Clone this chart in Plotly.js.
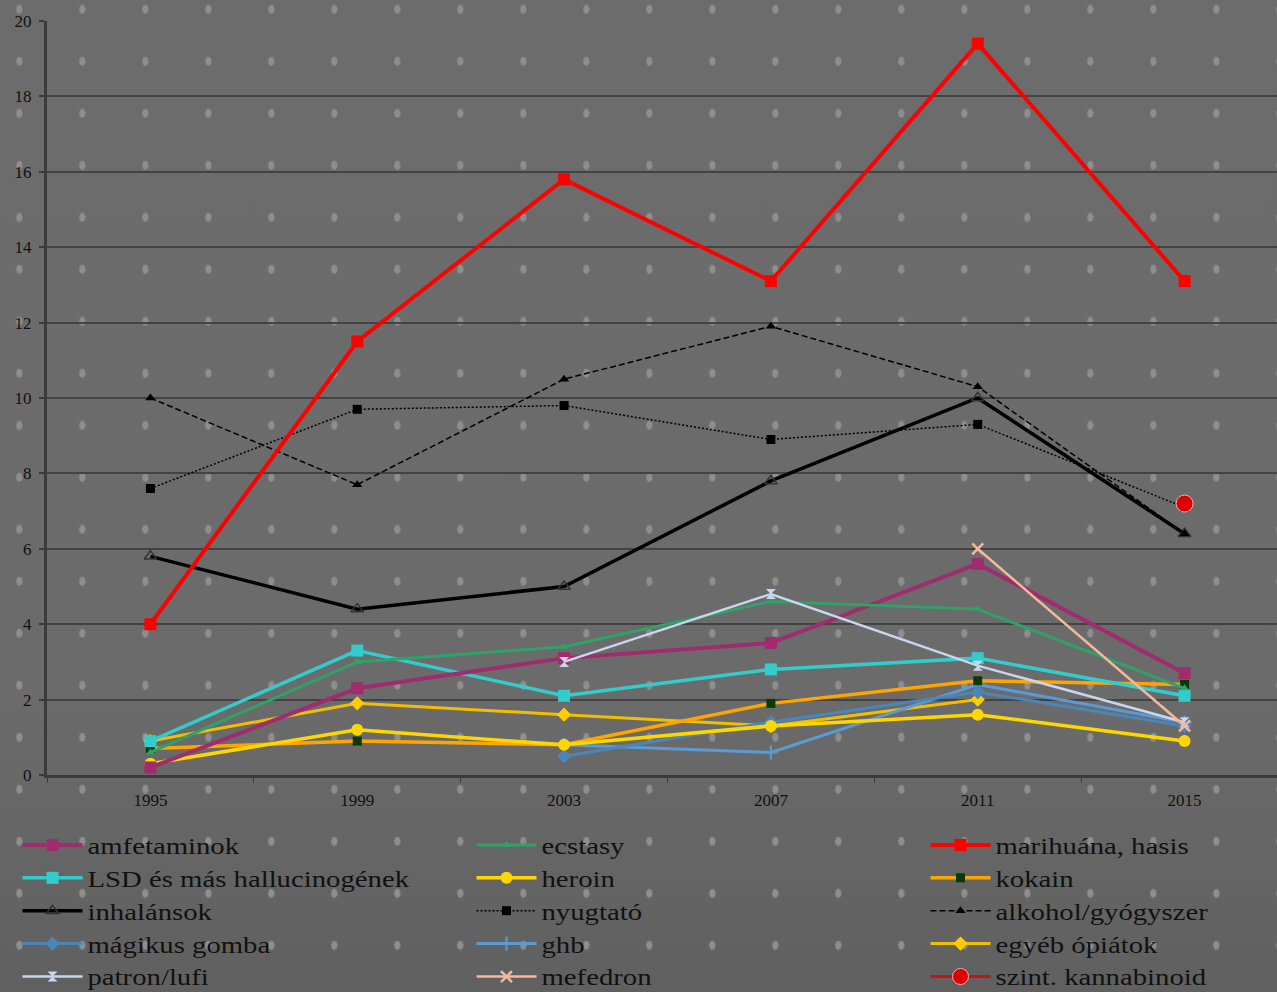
<!DOCTYPE html>
<html>
<head>
<meta charset="utf-8">
<script src="https://cdn.plot.ly/plotly-3.0.1.min.js"></script>
<style>
  html, body { margin: 0; padding: 0; }
  #chart {
    width: 1277px; height: 992px;
    background-color: #696969;
    background-image:
      radial-gradient(ellipse 3.6px 5px at 31.5px 26px, #8e8e8e 0%, #8e8e8e 75%, rgba(142,142,142,0) 100%),
      linear-gradient(to bottom, #6c6c6c 0%, #6b6b6b 70%, #606060 100%);
    background-size: 63px 52px, 100% 100%;
    background-position: -12.2px -16.7px, 0 0;
    background-repeat: repeat, no-repeat;
  }
  /* the reference's legend lettering is horizontally stretched */
  #chart g[class^="legend"] text {
    transform-box: fill-box;
    transform-origin: 0% 50%;
    transform: scaleX(1.25);
  }
  #chart g.scrollbox { clip-path: none !important; }
</style>
</head>
<body>
<div id="chart"></div>
<script>
// ---- data ----
const years = ["1995", "1999", "2003", "2007", "2011", "2015"];
const yTicks = [0, 2, 4, 6, 8, 10, 12, 14, 16, 18, 20];

const amfetaminok   = [0.2, 2.3, 3.1, 3.5, 5.6, 2.7];
const ecstasy       = [0.6, 3.0, 3.4, 4.6, 4.4, 2.3];
const marihuana     = [4.0, 11.5, 15.8, 13.1, 19.4, 13.1];
const lsd           = [0.9, 3.3, 2.1, 2.8, 3.1, 2.1];
const heroin        = [0.3, 1.2, 0.8, 1.3, 1.6, 0.9];
const kokain        = [0.7, 0.9, 0.8, 1.9, 2.5, 2.4];
const inhalansok    = [5.8, 4.4, 5.0, 7.8, 10.0, 6.4];
const nyugtato      = [7.6, 9.7, 9.8, 8.9, 9.3, 7.1];
const alkohol       = [10.0, 7.7, 10.5, 11.9, 10.3, 6.4];
const magikusGomba  = [null, null, 0.5, 1.4, 2.2, 1.3];
const ghb           = [null, null, 0.8, 0.6, 2.4, 1.4];
const egyebOpiatok  = [0.9, 1.9, 1.6, 1.3, 2.0, null];
const patronLufi    = [null, null, 3.0, 4.8, 2.9, 1.4];
const mefedron      = [null, null, null, null, 6.0, 1.3];
const szintKannab   = [null, null, null, null, null, 7.2];

const names = {
  amf: "amfetaminok", ecs: "ecstasy", mar: "marihuána, hasis",
  lsd: "LSD és más hallucinogének", her: "heroin", kok: "kokain",
  inh: "inhalánsok", nyu: "nyugtató", alk: "alkohol/gyógyszer",
  mag: "mágikus gomba", ghb: "ghb", egy: "egyéb ópiátok",
  pat: "patron/lufi", mef: "mefedron", szk: "szint. kannabinoid"
};

function tr(name, y, leg, rank, line, marker) {
  return { type: "scatter", mode: "lines+markers", x: years, y: y, name: name,
           legend: leg, legendrank: rank, line: line, marker: marker, connectgaps: false };
}

const traces = [
  tr(names.egy, egyebOpiatok, "legend3", 4, {color: "#f2bf00", width: 3}, {symbol: "diamond", size: 11, color: "#ffcc00"}),
  tr(names.ghb, ghb, "legend2", 4, {color: "#5b9bd5", width: 3}, {symbol: "cross-thin", size: 10, color: "#5b9bd5", line: {color: "#5b9bd5", width: 2}}),
  tr(names.mag, magikusGomba, "legend", 4, {color: "#4a86b8", width: 3}, {symbol: "diamond", size: 11, color: "#4a86b8"}),
  tr(names.kok, kokain, "legend3", 2, {color: "#ffa500", width: 3.5}, {symbol: "square", size: 9, color: "#0a3a0a"}),
  tr(names.her, heroin, "legend2", 2, {color: "#ffd700", width: 3.5}, {symbol: "circle", size: 12, color: "#ffd700"}),
  tr(names.lsd, lsd, "legend", 2, {color: "#33cccc", width: 3.5}, {symbol: "square", size: 12, color: "#33cccc"}),
  tr(names.amf, amfetaminok, "legend", 1, {color: "#a02b6e", width: 4}, {symbol: "square", size: 12, color: "#a02b6e"}),
  tr(names.ecs, ecstasy, "legend2", 1, {color: "#2ea268", width: 3}, {symbol: "triangle-up", size: 8, color: "#2ea268"}),
  tr(names.pat, patronLufi, "legend", 5, {color: "#c9d6ee", width: 2.5}, {symbol: "hourglass", size: 10, color: "#c9d6ee"}),
  tr(names.mef, mefedron, "legend2", 5, {color: "#f5b79e", width: 2.5}, {symbol: "x-thin", size: 11, color: "#f5b79e", line: {color: "#f5b79e", width: 2.5}}),
  tr(names.inh, inhalansok, "legend", 3, {color: "#000000", width: 3.5}, {symbol: "triangle-up-open", size: 11, color: "#333333", line: {color: "#333333", width: 1.5}}),
  tr(names.nyu, nyugtato, "legend2", 3, {color: "#000000", width: 1.5, dash: "2px,2px"}, {symbol: "square", size: 9, color: "#000000"}),
  tr(names.alk, alkohol, "legend3", 3, {color: "#000000", width: 1.5, dash: "6px,3px"}, {symbol: "triangle-up", size: 9, color: "#000000"}),
  tr(names.mar, marihuana, "legend3", 1, {color: "#ff0000", width: 4}, {symbol: "square", size: 12, color: "#ff0000"}),
  tr(names.szk, szintKannab, "legend3", 5, {color: "#cc1010", width: 3}, {symbol: "circle", size: 17, color: "#dd0000", line: {color: "#f0b0b0", width: 1}})
];

const serif = "'Liberation Serif', 'Times New Roman', serif";

function legendAt(xpx) {
  return {
    orientation: "v",
    xref: "container", yref: "container",
    x: (xpx - 4.5) / 1277, xanchor: "left",
    y: 0.1699, yanchor: "top",
    bgcolor: "rgba(0,0,0,0)",
    borderwidth: 0,
    itemwidth: 60,
    traceorder: "normal",
    font: {family: serif, size: 23, color: "#111111"},
    itemclick: false
  };
}

const layout = {
  width: 1277, height: 992,
  paper_bgcolor: "rgba(0,0,0,0)",
  plot_bgcolor: "rgba(0,0,0,0)",
  margin: {l: 47, r: 0, t: 21, b: 217, autoexpand: false},
  showlegend: true,
  font: {family: serif, color: "#111111"},
  xaxis: {
    type: "category",
    range: [-0.5, 5.447],
    showgrid: false, zeroline: false,
    showline: true, linecolor: "#3b3b3b", linewidth: 3,
    ticks: "outside", tickson: "boundaries", ticklen: 5, tickcolor: "#3b3b3b", tickwidth: 1,
    ticklabelstandoff: 8,
    tickfont: {family: serif, size: 17, color: "#111111"}
  },
  yaxis: {
    range: [0, 20], tickvals: yTicks, ticktext: yTicks.map(String),
    showgrid: true, gridcolor: "#434343", gridwidth: 2,
    zeroline: false,
    showline: true, linecolor: "#3b3b3b", linewidth: 3,
    ticks: "outside", ticklen: 5, tickcolor: "#3b3b3b", tickwidth: 2,
    ticklabelstandoff: 4,
    tickfont: {family: serif, size: 17, color: "#111111"}
  },
  legend: legendAt(22),
  legend2: legendAt(476),
  legend3: legendAt(930)
};

Plotly.newPlot("chart", traces, layout, {displayModeBar: false, staticPlot: true});
</script>
</body>
</html>
